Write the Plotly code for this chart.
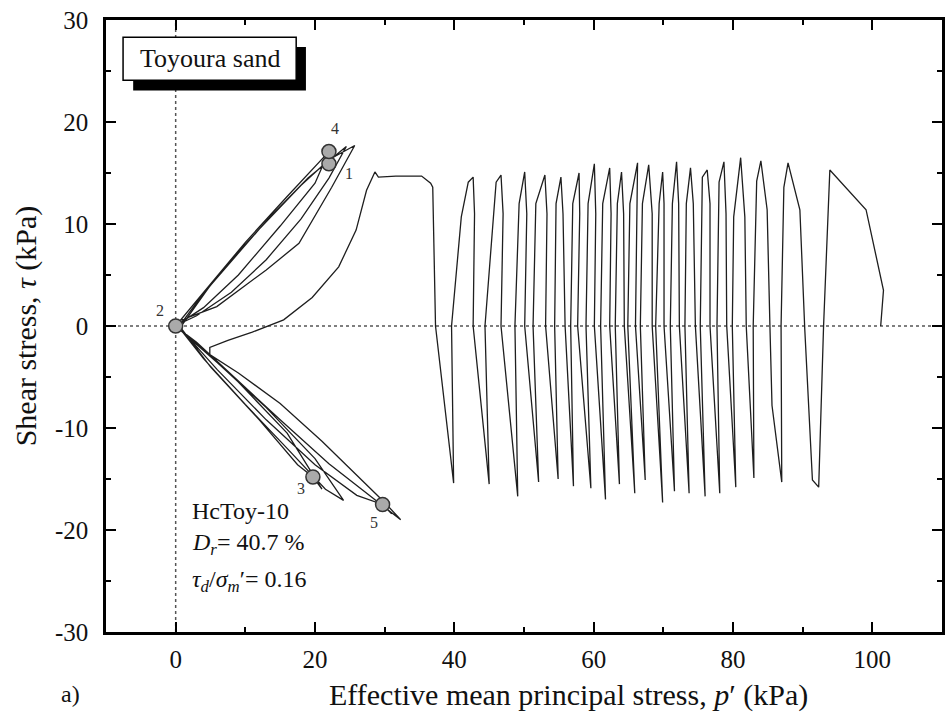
import plotly.graph_objects as go

# ---- data: effective mean principal stress p' (kPa) and shear stress tau (kPa), in time order ----
# large-amplitude cycles (p' decreasing from ~101 kPa)
p_cycles = [101.2, 101.6, 99.1, 93.9,
            93.0, 92.3, 91.4,
            90.3, 89.6, 87.9,
            87.3, 86.9, 87.0,
            85.6, 85.3, 84.9, 84.0,
            83.4, 82.9, 83.0,
            81.9, 81.7, 81.1,
            80.1, 79.9, 80.4,
            79.1, 79.0, 78.7,
            78.0, 77.7, 78.1,
            76.7, 76.7, 76.3,
            75.6, 75.3, 76.0,
            74.6, 74.3, 73.9,
            73.3, 73.1, 73.7,
            72.3, 72.2, 71.9,
            71.3, 71.0, 71.6,
            70.1, 70.1, 69.9,
            69.4, 68.9, 69.9,
            68.4, 68.4, 67.9,
            67.0, 66.7, 67.4,
            66.0, 66.3, 66.3,
            65.2, 64.9, 65.9,
            64.4, 64.3, 64.0,
            63.4, 63.1, 63.7,
            62.3, 62.5, 62.3,
            61.3, 61.0, 61.7,
            60.1, 60.3, 60.1,
            59.2, 58.9, 59.6,
            57.7, 58.0, 57.9,
            57.0, 56.7, 57.1,
            55.9, 55.6, 55.3,
            54.6, 54.4, 54.9,
            53.1, 53.3, 53.0,
            51.7, 51.3, 52.1,
            50.1, 50.4, 50.1,
            49.3, 48.7, 49.1,
            46.7, 47.0, 46.7,
            46.0, 44.4, 45.0,
            42.7, 42.9, 42.7,
            42.0, 41.0, 39.6, 39.9,
            37.3, 36.9, 36.6, 35.3, 31.6, 29.1, 28.6,
            27.4, 25.9, 23.4, 19.6, 15.5, 11.0, 7.5, 4.9, 4.9]
tau_cycles = [0.0, 3.5, 11.4, 15.3,
              0.0, -15.8, -15.1,
              -0.3, 11.4, 16.0,
              13.6, 0.0, -15.3,
              -7.8, 0.0, 11.4, 16.2,
              14.2, 0.0, -14.9,
              0.0, 10.7, 16.5,
              10.7, 0.0, -15.8,
              0.0, 11.0, 16.1,
              14.1, 0.0, -16.4,
              0.0, 12.0, 15.3,
              14.6, 0.0, -16.7,
              0.0, 12.0, 15.5,
              12.0, 0.0, -16.4,
              0.0, 12.0, 16.1,
              12.0, 0.0, -16.2,
              0.0, 12.0, 15.1,
              12.0, 0.0, -17.3,
              0.0, 11.0, 15.8,
              12.0, 0.0, -15.1,
              0.0, 12.0, 16.0,
              12.0, 0.0, -16.4,
              0.0, 11.0, 15.1,
              12.0, 0.0, -15.5,
              0.0, 11.0, 15.5,
              12.0, 0.0, -17.0,
              0.0, 11.0, 15.9,
              12.0, 0.0, -15.9,
              0.0, 11.0, 15.0,
              12.0, 0.0, -15.7,
              0.0, 11.0, 14.6,
              12.0, 0.0, -15.0,
              0.0, 11.0, 14.8,
              12.0, 0.0, -15.3,
              0.0, 11.0, 15.1,
              12.0, 0.0, -16.7,
              0.0, 11.0, 14.8,
              14.1, 0.0, -15.5,
              0.0, 11.0, 14.6,
              14.1, 10.7, 0.0, -15.4,
              0.0, 13.6, 14.0, 14.7, 14.7, 14.6, 15.1,
              13.3, 9.4, 5.8, 2.8, 0.6, -0.6, -1.4, -2.1, -2.8]

# cyclic-mobility (butterfly) loops near the origin
p_butterfly = [9.0, 15.0, 21.0, 26.0, 30.0, 32.3,
               28.5, 22.0, 15.0, 8.0, 3.0, 0.3,
               3.0, 8.0, 14.0, 19.0, 24.5,
               22.0, 18.0, 13.0, 8.0, 3.0, 0.2,
               4.0, 10.0, 16.0, 21.5, 24.1,
               20.0, 13.0, 6.0, 0.5,
               5.0, 12.0, 18.0, 22.0, 25.7,
               22.4, 17.7, 13.0, 5.9, 0.1,
               5.0, 12.0, 17.5, 19.7, 21.0,
               16.0, 9.0, 3.0, 0.0,
               4.0, 10.0, 16.0, 22.0,
               20.0, 15.0, 9.0, 4.0, 0.2,
               6.0, 13.0, 20.0, 26.0, 29.7, 31.0]
tau_butterfly = [-4.6, -7.6, -11.3, -14.6, -17.3, -19.0,
                 -17.0, -13.5, -9.2, -4.8, -1.6, -0.2,
                 2.3, 6.5, 11.0, 14.5, 17.6,
                 14.5, 10.5, 6.5, 3.3, 1.0, 0.1,
                 -3.2, -7.7, -12.0, -16.0, -17.1,
                 -13.0, -8.0, -3.6, -0.3,
                 4.0, 9.5, 13.8, 16.3, 17.7,
                 13.6, 8.1, 5.5, 1.9, 0.4,
                 -4.0, -9.2, -13.6, -14.8, -16.0,
                 -10.5, -5.5, -1.7, 0.0,
                 3.3, 8.2, 12.7, 17.1,
                 14.0, 9.8, 5.0, 1.8, 0.1,
                 -4.3, -9.2, -13.6, -16.6, -17.5, -18.4]

# numbered state points
mark_p = [22.0, 0.0, 19.7, 22.0, 29.7]
mark_tau = [15.9, 0.0, -14.8, 17.1, -17.5]
mark_lbl = ["1", "2", "3", "4", "5"]
mark_lbl_p = [24.9, -2.2, 18.0, 22.9, 28.4]
mark_lbl_tau = [15.0, 1.5, -15.9, 19.4, -19.3]

x_ticks = [0, 20, 40, 60, 80, 100]
x_tick_text = ["0", "20", "40", "60", "80", "100"]
y_ticks = [-30, -20, -10, 0, 10, 20, 30]
y_tick_text = ["-30", "-20", "-10", "0", "10", "20", "30"]

FONT = "Liberation Serif, Times New Roman, serif"
INK = "#1e1e1e"
TXT = "#111111"

fig = go.Figure()
fig.add_trace(go.Scatter(x=p_cycles + p_butterfly, y=tau_cycles + tau_butterfly,
                         mode="lines", line=dict(color=INK, width=1.3),
                         showlegend=False, hoverinfo="skip"))
fig.add_trace(go.Scatter(x=mark_p, y=mark_tau, mode="markers",
                         marker=dict(size=14, color="#aaaaaa", line=dict(color="#333333", width=1.5)),
                         showlegend=False))

for lp, lt, t in zip(mark_lbl_p, mark_lbl_tau, mark_lbl):
    fig.add_annotation(x=lp, y=lt, text=t, showarrow=False,
                       font=dict(family=FONT, size=16, color="#333333"))

# dotted reference lines
fig.add_shape(type="line", x0=0, x1=0, y0=-30, y1=30, xref="x", yref="y",
              line=dict(color="#555555", width=1.5, dash="dot"), layer="below")
fig.add_shape(type="line", x0=-10, x1=110, y0=0, y1=0, xref="x", yref="y",
              line=dict(color="#555555", width=1.5, dash="dot"), layer="below")

# "Toyoura sand" label box with drop shadow
fig.add_shape(type="rect", x0=-6.1, x1=18.7, y0=23.1, y1=27.35, xref="x", yref="y",
              line=dict(width=0), fillcolor="#000000", layer="above")
fig.add_shape(type="rect", x0=-7.55, x1=17.3, y0=24.1, y1=28.3, xref="x", yref="y",
              line=dict(color="#000000", width=1.5), fillcolor="#ffffff", layer="above")
fig.add_annotation(x=4.9, y=26.2, text="Toyoura sand", showarrow=False,
                   font=dict(family=FONT, size=26, color=TXT))

# test information
fig.add_annotation(x=2.0, y=-18.1, xanchor="left", text="HcToy-10", showarrow=False,
                   font=dict(family=FONT, size=24, color=TXT))
fig.add_annotation(x=2.0, y=-21.4, xanchor="left",
                   text="<i>D</i><sub><i>r</i></sub>= 40.7 %", showarrow=False,
                   font=dict(family=FONT, size=24, color=TXT))
fig.add_annotation(x=2.0, y=-25.0, xanchor="left",
                   text="<i>τ</i><sub><i>d</i></sub>/<i>σ</i><sub><i>m</i></sub>′= 0.16", showarrow=False,
                   font=dict(family=FONT, size=24, color=TXT))

# panel label and x-axis title (placed in paper coordinates)
PL, PW, PB, PH = 106, 839, 632, 612
fig.add_annotation(xref="paper", yref="paper", x=(70 - PL) / PW, y=(PB - 694) / PH,
                   xanchor="center", yanchor="middle", text="a)", showarrow=False,
                   font=dict(family=FONT, size=24, color=TXT))
fig.add_annotation(xref="paper", yref="paper", x=(570 - PL) / PW, y=(PB - 695) / PH,
                   xanchor="center", yanchor="middle",
                   text="Effective mean principal stress, <i>p</i>′ (kPa)", showarrow=False,
                   font=dict(family=FONT, size=30, color=TXT))

axis_common = dict(showline=True, linecolor="#000000", linewidth=2.5, mirror="allticks",
                   ticks="inside", ticklen=10, tickwidth=2, tickcolor="#000000",
                   showgrid=False, zeroline=False,
                   tickfont=dict(family=FONT, size=25, color=TXT))

fig.update_xaxes(range=[-10, 110], tickvals=x_ticks, ticktext=x_tick_text, ticklabelstandoff=3,
                 minor=dict(dtick=10, tick0=0, ticks="inside", ticklen=5, tickwidth=2, tickcolor="#000000"),
                 **axis_common)
fig.update_yaxes(range=[-30, 30], tickvals=y_ticks, ticktext=y_tick_text, ticklabelstandoff=10,
                 minor=dict(dtick=5, tick0=0, ticks="inside", ticklen=5, tickwidth=2, tickcolor="#000000"),
                 title=dict(text="Shear stress, <i>τ</i> (kPa)",
                            font=dict(family=FONT, size=30, color=TXT), standoff=10),
                 **axis_common)

fig.update_layout(width=946, height=726, margin=dict(l=106, r=1, t=20, b=94),
                  plot_bgcolor="#ffffff", paper_bgcolor="#ffffff",
                  font=dict(family=FONT, color=TXT))

fig.write_html("out.html")
